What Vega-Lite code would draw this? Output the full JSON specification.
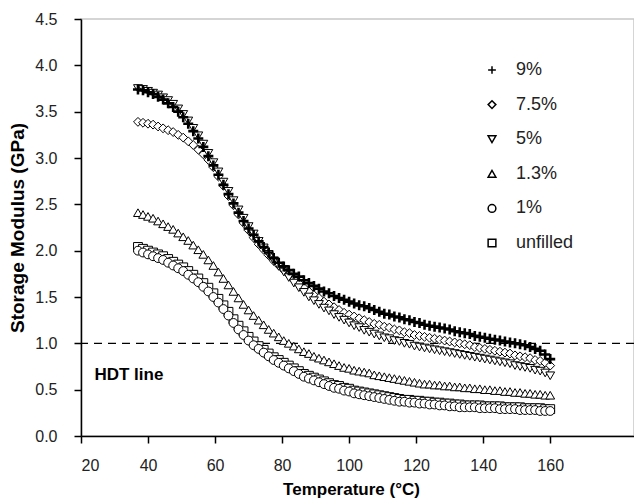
{
  "$schema": "https://vega.github.io/schema/vega-lite/v6.json",
  "width": 553,
  "height": 417,
  "autosize": {"type": "none"},
  "padding": {"left": 81, "top": 19, "right": 0, "bottom": 64},
  "background": "white",
  "config": {
    "view": {"stroke": "#c8c8c8", "strokeWidth": 1.5},
    "font": "Liberation Sans",
    "axis": {
      "grid": false,
      "domainColor": "black",
      "domainWidth": 1.5,
      "tickColor": "black",
      "tickWidth": 1.5,
      "labelFont": "Liberation Sans",
      "labelFontSize": 16,
      "labelColor": "#222222",
      "titleFont": "Liberation Sans",
      "titleFontWeight": "bold",
      "titleColor": "black"
    }
  },
  "datasets": {
    "curves": [
{"s":"unfilled","t":37,"v":2.04},{"s":"unfilled","t":38.5,"v":2.02},{"s":"unfilled","t":40,"v":2.00},{"s":"unfilled","t":41.5,"v":1.98},{"s":"unfilled","t":43,"v":1.96},{"s":"unfilled","t":44.5,"v":1.94},{"s":"unfilled","t":46,"v":1.91},{"s":"unfilled","t":47.5,"v":1.88},{"s":"unfilled","t":49,"v":1.85},{"s":"unfilled","t":50.5,"v":1.82},{"s":"unfilled","t":52,"v":1.78},{"s":"unfilled","t":53.5,"v":1.74},{"s":"unfilled","t":55,"v":1.70},{"s":"unfilled","t":56.5,"v":1.65},{"s":"unfilled","t":58,"v":1.60},{"s":"unfilled","t":59.5,"v":1.54},{"s":"unfilled","t":61,"v":1.48},{"s":"unfilled","t":62.5,"v":1.41},{"s":"unfilled","t":64,"v":1.34},{"s":"unfilled","t":65.5,"v":1.26},{"s":"unfilled","t":67,"v":1.19},{"s":"unfilled","t":68.5,"v":1.13},{"s":"unfilled","t":70,"v":1.07},{"s":"unfilled","t":71.5,"v":1.02},{"s":"unfilled","t":73,"v":0.97},{"s":"unfilled","t":74.5,"v":0.93},{"s":"unfilled","t":76,"v":0.89},{"s":"unfilled","t":77.5,"v":0.85},{"s":"unfilled","t":79,"v":0.82},{"s":"unfilled","t":80.5,"v":0.79},{"s":"unfilled","t":82,"v":0.76},{"s":"unfilled","t":83.5,"v":0.73},{"s":"unfilled","t":85,"v":0.70},{"s":"unfilled","t":86.5,"v":0.67},{"s":"unfilled","t":88,"v":0.65},{"s":"unfilled","t":89.5,"v":0.63},{"s":"unfilled","t":91,"v":0.61},{"s":"unfilled","t":92.5,"v":0.59},{"s":"unfilled","t":94,"v":0.57},{"s":"unfilled","t":95.5,"v":0.55},{"s":"unfilled","t":97,"v":0.54},{"s":"unfilled","t":98.5,"v":0.52},{"s":"unfilled","t":100,"v":0.51},{"s":"unfilled","t":101.5,"v":0.49},{"s":"unfilled","t":103,"v":0.48},{"s":"unfilled","t":104.5,"v":0.47},{"s":"unfilled","t":106,"v":0.46},{"s":"unfilled","t":107.5,"v":0.45},{"s":"unfilled","t":109,"v":0.44},{"s":"unfilled","t":110.5,"v":0.43},{"s":"unfilled","t":112,"v":0.42},{"s":"unfilled","t":113.5,"v":0.41},{"s":"unfilled","t":115,"v":0.40},{"s":"unfilled","t":116.5,"v":0.39},{"s":"unfilled","t":118,"v":0.39},{"s":"unfilled","t":119.5,"v":0.38},{"s":"unfilled","t":121,"v":0.38},{"s":"unfilled","t":122.5,"v":0.37},{"s":"unfilled","t":124,"v":0.37},{"s":"unfilled","t":125.5,"v":0.36},{"s":"unfilled","t":127,"v":0.36},{"s":"unfilled","t":128.5,"v":0.35},{"s":"unfilled","t":130,"v":0.35},{"s":"unfilled","t":131.5,"v":0.34},{"s":"unfilled","t":133,"v":0.34},{"s":"unfilled","t":134.5,"v":0.33},{"s":"unfilled","t":136,"v":0.33},{"s":"unfilled","t":137.5,"v":0.33},{"s":"unfilled","t":139,"v":0.33},{"s":"unfilled","t":140.5,"v":0.32},{"s":"unfilled","t":142,"v":0.32},{"s":"unfilled","t":143.5,"v":0.32},{"s":"unfilled","t":145,"v":0.32},{"s":"unfilled","t":146.5,"v":0.31},{"s":"unfilled","t":148,"v":0.31},{"s":"unfilled","t":149.5,"v":0.31},{"s":"unfilled","t":151,"v":0.31},{"s":"unfilled","t":152.5,"v":0.30},{"s":"unfilled","t":154,"v":0.30},{"s":"unfilled","t":155.5,"v":0.30},{"s":"unfilled","t":157,"v":0.30},{"s":"unfilled","t":158.5,"v":0.29},{"s":"unfilled","t":160,"v":0.29},
{"s":"1%","t":37,"v":2.00},{"s":"1%","t":38.5,"v":1.98},{"s":"1%","t":40,"v":1.96},{"s":"1%","t":41.5,"v":1.94},{"s":"1%","t":43,"v":1.92},{"s":"1%","t":44.5,"v":1.90},{"s":"1%","t":46,"v":1.87},{"s":"1%","t":47.5,"v":1.84},{"s":"1%","t":49,"v":1.81},{"s":"1%","t":50.5,"v":1.78},{"s":"1%","t":52,"v":1.74},{"s":"1%","t":53.5,"v":1.70},{"s":"1%","t":55,"v":1.66},{"s":"1%","t":56.5,"v":1.61},{"s":"1%","t":58,"v":1.56},{"s":"1%","t":59.5,"v":1.50},{"s":"1%","t":61,"v":1.44},{"s":"1%","t":62.5,"v":1.37},{"s":"1%","t":64,"v":1.30},{"s":"1%","t":65.5,"v":1.22},{"s":"1%","t":67,"v":1.15},{"s":"1%","t":68.5,"v":1.09},{"s":"1%","t":70,"v":1.03},{"s":"1%","t":71.5,"v":0.98},{"s":"1%","t":73,"v":0.94},{"s":"1%","t":74.5,"v":0.90},{"s":"1%","t":76,"v":0.86},{"s":"1%","t":77.5,"v":0.82},{"s":"1%","t":79,"v":0.79},{"s":"1%","t":80.5,"v":0.76},{"s":"1%","t":82,"v":0.73},{"s":"1%","t":83.5,"v":0.70},{"s":"1%","t":85,"v":0.67},{"s":"1%","t":86.5,"v":0.64},{"s":"1%","t":88,"v":0.62},{"s":"1%","t":89.5,"v":0.60},{"s":"1%","t":91,"v":0.58},{"s":"1%","t":92.5,"v":0.56},{"s":"1%","t":94,"v":0.54},{"s":"1%","t":95.5,"v":0.52},{"s":"1%","t":97,"v":0.51},{"s":"1%","t":98.5,"v":0.49},{"s":"1%","t":100,"v":0.48},{"s":"1%","t":101.5,"v":0.46},{"s":"1%","t":103,"v":0.45},{"s":"1%","t":104.5,"v":0.44},{"s":"1%","t":106,"v":0.43},{"s":"1%","t":107.5,"v":0.42},{"s":"1%","t":109,"v":0.41},{"s":"1%","t":110.5,"v":0.40},{"s":"1%","t":112,"v":0.39},{"s":"1%","t":113.5,"v":0.38},{"s":"1%","t":115,"v":0.37},{"s":"1%","t":116.5,"v":0.37},{"s":"1%","t":118,"v":0.36},{"s":"1%","t":119.5,"v":0.36},{"s":"1%","t":121,"v":0.35},{"s":"1%","t":122.5,"v":0.35},{"s":"1%","t":124,"v":0.34},{"s":"1%","t":125.5,"v":0.34},{"s":"1%","t":127,"v":0.33},{"s":"1%","t":128.5,"v":0.33},{"s":"1%","t":130,"v":0.32},{"s":"1%","t":131.5,"v":0.32},{"s":"1%","t":133,"v":0.31},{"s":"1%","t":134.5,"v":0.31},{"s":"1%","t":136,"v":0.31},{"s":"1%","t":137.5,"v":0.31},{"s":"1%","t":139,"v":0.30},{"s":"1%","t":140.5,"v":0.30},{"s":"1%","t":142,"v":0.30},{"s":"1%","t":143.5,"v":0.30},{"s":"1%","t":145,"v":0.29},{"s":"1%","t":146.5,"v":0.29},{"s":"1%","t":148,"v":0.29},{"s":"1%","t":149.5,"v":0.29},{"s":"1%","t":151,"v":0.28},{"s":"1%","t":152.5,"v":0.28},{"s":"1%","t":154,"v":0.28},{"s":"1%","t":155.5,"v":0.28},{"s":"1%","t":157,"v":0.27},{"s":"1%","t":158.5,"v":0.27},{"s":"1%","t":160,"v":0.27},
{"s":"1.3%","t":37,"v":2.41},{"s":"1.3%","t":38.5,"v":2.39},{"s":"1.3%","t":40,"v":2.37},{"s":"1.3%","t":41.5,"v":2.35},{"s":"1.3%","t":43,"v":2.32},{"s":"1.3%","t":44.5,"v":2.29},{"s":"1.3%","t":46,"v":2.26},{"s":"1.3%","t":47.5,"v":2.23},{"s":"1.3%","t":49,"v":2.19},{"s":"1.3%","t":50.5,"v":2.15},{"s":"1.3%","t":52,"v":2.11},{"s":"1.3%","t":53.5,"v":2.06},{"s":"1.3%","t":55,"v":2.01},{"s":"1.3%","t":56.5,"v":1.96},{"s":"1.3%","t":58,"v":1.90},{"s":"1.3%","t":59.5,"v":1.84},{"s":"1.3%","t":61,"v":1.77},{"s":"1.3%","t":62.5,"v":1.70},{"s":"1.3%","t":64,"v":1.63},{"s":"1.3%","t":65.5,"v":1.56},{"s":"1.3%","t":67,"v":1.49},{"s":"1.3%","t":68.5,"v":1.42},{"s":"1.3%","t":70,"v":1.36},{"s":"1.3%","t":71.5,"v":1.30},{"s":"1.3%","t":73,"v":1.25},{"s":"1.3%","t":74.5,"v":1.20},{"s":"1.3%","t":76,"v":1.15},{"s":"1.3%","t":77.5,"v":1.11},{"s":"1.3%","t":79,"v":1.07},{"s":"1.3%","t":80.5,"v":1.03},{"s":"1.3%","t":82,"v":1.00},{"s":"1.3%","t":83.5,"v":0.97},{"s":"1.3%","t":85,"v":0.94},{"s":"1.3%","t":86.5,"v":0.91},{"s":"1.3%","t":88,"v":0.89},{"s":"1.3%","t":89.5,"v":0.86},{"s":"1.3%","t":91,"v":0.84},{"s":"1.3%","t":92.5,"v":0.82},{"s":"1.3%","t":94,"v":0.80},{"s":"1.3%","t":95.5,"v":0.78},{"s":"1.3%","t":97,"v":0.76},{"s":"1.3%","t":98.5,"v":0.74},{"s":"1.3%","t":100,"v":0.73},{"s":"1.3%","t":101.5,"v":0.71},{"s":"1.3%","t":103,"v":0.70},{"s":"1.3%","t":104.5,"v":0.69},{"s":"1.3%","t":106,"v":0.68},{"s":"1.3%","t":107.5,"v":0.66},{"s":"1.3%","t":109,"v":0.65},{"s":"1.3%","t":110.5,"v":0.64},{"s":"1.3%","t":112,"v":0.63},{"s":"1.3%","t":113.5,"v":0.62},{"s":"1.3%","t":115,"v":0.61},{"s":"1.3%","t":116.5,"v":0.60},{"s":"1.3%","t":118,"v":0.59},{"s":"1.3%","t":119.5,"v":0.58},{"s":"1.3%","t":121,"v":0.57},{"s":"1.3%","t":122.5,"v":0.56},{"s":"1.3%","t":124,"v":0.56},{"s":"1.3%","t":125.5,"v":0.55},{"s":"1.3%","t":127,"v":0.55},{"s":"1.3%","t":128.5,"v":0.54},{"s":"1.3%","t":130,"v":0.54},{"s":"1.3%","t":131.5,"v":0.53},{"s":"1.3%","t":133,"v":0.53},{"s":"1.3%","t":134.5,"v":0.52},{"s":"1.3%","t":136,"v":0.52},{"s":"1.3%","t":137.5,"v":0.51},{"s":"1.3%","t":139,"v":0.51},{"s":"1.3%","t":140.5,"v":0.50},{"s":"1.3%","t":142,"v":0.50},{"s":"1.3%","t":143.5,"v":0.49},{"s":"1.3%","t":145,"v":0.49},{"s":"1.3%","t":146.5,"v":0.48},{"s":"1.3%","t":148,"v":0.48},{"s":"1.3%","t":149.5,"v":0.47},{"s":"1.3%","t":151,"v":0.47},{"s":"1.3%","t":152.5,"v":0.46},{"s":"1.3%","t":154,"v":0.46},{"s":"1.3%","t":155.5,"v":0.45},{"s":"1.3%","t":157,"v":0.45},{"s":"1.3%","t":158.5,"v":0.44},{"s":"1.3%","t":160,"v":0.44},
{"s":"7.5%","t":37,"v":3.39},{"s":"7.5%","t":38.5,"v":3.38},{"s":"7.5%","t":40,"v":3.37},{"s":"7.5%","t":41.5,"v":3.36},{"s":"7.5%","t":43,"v":3.34},{"s":"7.5%","t":44.5,"v":3.32},{"s":"7.5%","t":46,"v":3.30},{"s":"7.5%","t":47.5,"v":3.28},{"s":"7.5%","t":49,"v":3.25},{"s":"7.5%","t":50.5,"v":3.22},{"s":"7.5%","t":52,"v":3.18},{"s":"7.5%","t":53.5,"v":3.14},{"s":"7.5%","t":55,"v":3.09},{"s":"7.5%","t":56.5,"v":3.04},{"s":"7.5%","t":58,"v":2.98},{"s":"7.5%","t":59.5,"v":2.90},{"s":"7.5%","t":61,"v":2.80},{"s":"7.5%","t":62.5,"v":2.70},{"s":"7.5%","t":64,"v":2.59},{"s":"7.5%","t":65.5,"v":2.49},{"s":"7.5%","t":67,"v":2.39},{"s":"7.5%","t":68.5,"v":2.30},{"s":"7.5%","t":70,"v":2.22},{"s":"7.5%","t":71.5,"v":2.14},{"s":"7.5%","t":73,"v":2.07},{"s":"7.5%","t":74.5,"v":2.01},{"s":"7.5%","t":76,"v":1.95},{"s":"7.5%","t":77.5,"v":1.89},{"s":"7.5%","t":79,"v":1.84},{"s":"7.5%","t":80.5,"v":1.79},{"s":"7.5%","t":82,"v":1.74},{"s":"7.5%","t":83.5,"v":1.69},{"s":"7.5%","t":85,"v":1.65},{"s":"7.5%","t":86.5,"v":1.60},{"s":"7.5%","t":88,"v":1.56},{"s":"7.5%","t":89.5,"v":1.52},{"s":"7.5%","t":91,"v":1.49},{"s":"7.5%","t":92.5,"v":1.45},{"s":"7.5%","t":94,"v":1.42},{"s":"7.5%","t":95.5,"v":1.39},{"s":"7.5%","t":97,"v":1.36},{"s":"7.5%","t":98.5,"v":1.33},{"s":"7.5%","t":100,"v":1.31},{"s":"7.5%","t":101.5,"v":1.29},{"s":"7.5%","t":103,"v":1.27},{"s":"7.5%","t":104.5,"v":1.25},{"s":"7.5%","t":106,"v":1.23},{"s":"7.5%","t":107.5,"v":1.21},{"s":"7.5%","t":109,"v":1.20},{"s":"7.5%","t":110.5,"v":1.18},{"s":"7.5%","t":112,"v":1.17},{"s":"7.5%","t":113.5,"v":1.15},{"s":"7.5%","t":115,"v":1.14},{"s":"7.5%","t":116.5,"v":1.12},{"s":"7.5%","t":118,"v":1.11},{"s":"7.5%","t":119.5,"v":1.09},{"s":"7.5%","t":121,"v":1.08},{"s":"7.5%","t":122.5,"v":1.07},{"s":"7.5%","t":124,"v":1.06},{"s":"7.5%","t":125.5,"v":1.05},{"s":"7.5%","t":127,"v":1.04},{"s":"7.5%","t":128.5,"v":1.03},{"s":"7.5%","t":130,"v":1.02},{"s":"7.5%","t":131.5,"v":1.01},{"s":"7.5%","t":133,"v":1.00},{"s":"7.5%","t":134.5,"v":0.99},{"s":"7.5%","t":136,"v":0.98},{"s":"7.5%","t":137.5,"v":0.96},{"s":"7.5%","t":139,"v":0.95},{"s":"7.5%","t":140.5,"v":0.94},{"s":"7.5%","t":142,"v":0.93},{"s":"7.5%","t":143.5,"v":0.92},{"s":"7.5%","t":145,"v":0.91},{"s":"7.5%","t":146.5,"v":0.90},{"s":"7.5%","t":148,"v":0.89},{"s":"7.5%","t":149.5,"v":0.87},{"s":"7.5%","t":151,"v":0.86},{"s":"7.5%","t":152.5,"v":0.85},{"s":"7.5%","t":154,"v":0.84},{"s":"7.5%","t":155.5,"v":0.82},{"s":"7.5%","t":157,"v":0.81},{"s":"7.5%","t":158.5,"v":0.79},{"s":"7.5%","t":160,"v":0.76},
{"s":"5%","t":37,"v":3.75},{"s":"5%","t":38.5,"v":3.74},{"s":"5%","t":40,"v":3.72},{"s":"5%","t":41.5,"v":3.70},{"s":"5%","t":43,"v":3.68},{"s":"5%","t":44.5,"v":3.65},{"s":"5%","t":46,"v":3.62},{"s":"5%","t":47.5,"v":3.58},{"s":"5%","t":49,"v":3.53},{"s":"5%","t":50.5,"v":3.47},{"s":"5%","t":52,"v":3.40},{"s":"5%","t":53.5,"v":3.32},{"s":"5%","t":55,"v":3.24},{"s":"5%","t":56.5,"v":3.15},{"s":"5%","t":58,"v":3.05},{"s":"5%","t":59.5,"v":2.95},{"s":"5%","t":61,"v":2.85},{"s":"5%","t":62.5,"v":2.74},{"s":"5%","t":64,"v":2.64},{"s":"5%","t":65.5,"v":2.54},{"s":"5%","t":67,"v":2.44},{"s":"5%","t":68.5,"v":2.35},{"s":"5%","t":70,"v":2.26},{"s":"5%","t":71.5,"v":2.18},{"s":"5%","t":73,"v":2.10},{"s":"5%","t":74.5,"v":2.03},{"s":"5%","t":76,"v":1.96},{"s":"5%","t":77.5,"v":1.89},{"s":"5%","t":79,"v":1.83},{"s":"5%","t":80.5,"v":1.77},{"s":"5%","t":82,"v":1.71},{"s":"5%","t":83.5,"v":1.65},{"s":"5%","t":85,"v":1.60},{"s":"5%","t":86.5,"v":1.55},{"s":"5%","t":88,"v":1.50},{"s":"5%","t":89.5,"v":1.46},{"s":"5%","t":91,"v":1.42},{"s":"5%","t":92.5,"v":1.38},{"s":"5%","t":94,"v":1.35},{"s":"5%","t":95.5,"v":1.31},{"s":"5%","t":97,"v":1.28},{"s":"5%","t":98.5,"v":1.25},{"s":"5%","t":100,"v":1.22},{"s":"5%","t":101.5,"v":1.19},{"s":"5%","t":103,"v":1.17},{"s":"5%","t":104.5,"v":1.14},{"s":"5%","t":106,"v":1.12},{"s":"5%","t":107.5,"v":1.10},{"s":"5%","t":109,"v":1.08},{"s":"5%","t":110.5,"v":1.06},{"s":"5%","t":112,"v":1.05},{"s":"5%","t":113.5,"v":1.03},{"s":"5%","t":115,"v":1.02},{"s":"5%","t":116.5,"v":1.00},{"s":"5%","t":118,"v":0.99},{"s":"5%","t":119.5,"v":0.97},{"s":"5%","t":121,"v":0.96},{"s":"5%","t":122.5,"v":0.95},{"s":"5%","t":124,"v":0.94},{"s":"5%","t":125.5,"v":0.93},{"s":"5%","t":127,"v":0.92},{"s":"5%","t":128.5,"v":0.91},{"s":"5%","t":130,"v":0.90},{"s":"5%","t":131.5,"v":0.89},{"s":"5%","t":133,"v":0.88},{"s":"5%","t":134.5,"v":0.87},{"s":"5%","t":136,"v":0.86},{"s":"5%","t":137.5,"v":0.85},{"s":"5%","t":139,"v":0.84},{"s":"5%","t":140.5,"v":0.83},{"s":"5%","t":142,"v":0.82},{"s":"5%","t":143.5,"v":0.81},{"s":"5%","t":145,"v":0.80},{"s":"5%","t":146.5,"v":0.79},{"s":"5%","t":148,"v":0.78},{"s":"5%","t":149.5,"v":0.76},{"s":"5%","t":151,"v":0.75},{"s":"5%","t":152.5,"v":0.74},{"s":"5%","t":154,"v":0.73},{"s":"5%","t":155.5,"v":0.71},{"s":"5%","t":157,"v":0.70},{"s":"5%","t":158.5,"v":0.68},{"s":"5%","t":160,"v":0.65},
{"s":"9%","t":37,"v":3.74},{"s":"9%","t":38.5,"v":3.73},{"s":"9%","t":40,"v":3.71},{"s":"9%","t":41.5,"v":3.69},{"s":"9%","t":43,"v":3.66},{"s":"9%","t":44.5,"v":3.63},{"s":"9%","t":46,"v":3.59},{"s":"9%","t":47.5,"v":3.55},{"s":"9%","t":49,"v":3.50},{"s":"9%","t":50.5,"v":3.44},{"s":"9%","t":52,"v":3.37},{"s":"9%","t":53.5,"v":3.29},{"s":"9%","t":55,"v":3.21},{"s":"9%","t":56.5,"v":3.12},{"s":"9%","t":58,"v":3.02},{"s":"9%","t":59.5,"v":2.92},{"s":"9%","t":61,"v":2.82},{"s":"9%","t":62.5,"v":2.71},{"s":"9%","t":64,"v":2.61},{"s":"9%","t":65.5,"v":2.51},{"s":"9%","t":67,"v":2.41},{"s":"9%","t":68.5,"v":2.32},{"s":"9%","t":70,"v":2.24},{"s":"9%","t":71.5,"v":2.17},{"s":"9%","t":73,"v":2.10},{"s":"9%","t":74.5,"v":2.04},{"s":"9%","t":76,"v":1.98},{"s":"9%","t":77.5,"v":1.92},{"s":"9%","t":79,"v":1.87},{"s":"9%","t":80.5,"v":1.83},{"s":"9%","t":82,"v":1.79},{"s":"9%","t":83.5,"v":1.75},{"s":"9%","t":85,"v":1.72},{"s":"9%","t":86.5,"v":1.68},{"s":"9%","t":88,"v":1.65},{"s":"9%","t":89.5,"v":1.62},{"s":"9%","t":91,"v":1.59},{"s":"9%","t":92.5,"v":1.56},{"s":"9%","t":94,"v":1.54},{"s":"9%","t":95.5,"v":1.51},{"s":"9%","t":97,"v":1.49},{"s":"9%","t":98.5,"v":1.47},{"s":"9%","t":100,"v":1.45},{"s":"9%","t":101.5,"v":1.43},{"s":"9%","t":103,"v":1.41},{"s":"9%","t":104.5,"v":1.40},{"s":"9%","t":106,"v":1.38},{"s":"9%","t":107.5,"v":1.36},{"s":"9%","t":109,"v":1.34},{"s":"9%","t":110.5,"v":1.32},{"s":"9%","t":112,"v":1.31},{"s":"9%","t":113.5,"v":1.29},{"s":"9%","t":115,"v":1.28},{"s":"9%","t":116.5,"v":1.26},{"s":"9%","t":118,"v":1.25},{"s":"9%","t":119.5,"v":1.23},{"s":"9%","t":121,"v":1.22},{"s":"9%","t":122.5,"v":1.20},{"s":"9%","t":124,"v":1.19},{"s":"9%","t":125.5,"v":1.18},{"s":"9%","t":127,"v":1.17},{"s":"9%","t":128.5,"v":1.16},{"s":"9%","t":130,"v":1.15},{"s":"9%","t":131.5,"v":1.13},{"s":"9%","t":133,"v":1.12},{"s":"9%","t":134.5,"v":1.11},{"s":"9%","t":136,"v":1.10},{"s":"9%","t":137.5,"v":1.08},{"s":"9%","t":139,"v":1.07},{"s":"9%","t":140.5,"v":1.06},{"s":"9%","t":142,"v":1.05},{"s":"9%","t":143.5,"v":1.04},{"s":"9%","t":145,"v":1.03},{"s":"9%","t":146.5,"v":1.02},{"s":"9%","t":148,"v":1.01},{"s":"9%","t":149.5,"v":1.00},{"s":"9%","t":151,"v":0.99},{"s":"9%","t":152.5,"v":0.98},{"s":"9%","t":154,"v":0.96},{"s":"9%","t":155.5,"v":0.94},{"s":"9%","t":157,"v":0.92},{"s":"9%","t":158.5,"v":0.88},{"s":"9%","t":160,"v":0.83}
    ]
  },
  "layer": [
    {
      "data": {"values": [{"hdt": 1.0}]},
      "mark": {"type": "rule", "color": "black", "strokeWidth": 1.3, "strokeDash": [8, 6]},
      "encoding": {"y": {"field": "hdt", "type": "quantitative"}}
    },
    {
      "data": {"values": [{"label": "HDT line", "t": 24, "v": 0.66}]},
      "mark": {"type": "text", "align": "left", "baseline": "middle", "font": "Liberation Sans", "fontSize": 17, "fontWeight": "bold", "color": "black"},
      "encoding": {
        "x": {"field": "t", "type": "quantitative"},
        "y": {"field": "v", "type": "quantitative"},
        "text": {"field": "label"}
      }
    },
    {
      "data": {"name": "curves"},
      "mark": {"type": "point", "filled": true, "fill": "white", "stroke": "black", "opacity": 1},
      "encoding": {
        "x": {
          "field": "t", "type": "quantitative",
          "scale": {"domain": [20, 185], "nice": false, "zero": false},
          "axis": {
            "title": "Temperature (°C)",
            "titleFontSize": 17,
            "titleX": 270,
            "values": [20,30,40,50,60,70,80,90,100,110,120,130,140,150,160,170],
            "labelExpr": "datum.value % 20 === 0 ? datum.label : ''",
            "tickSize": {"condition": {"test": "datum.value % 20 === 0", "value": 7}, "value": 4},
            "labelPadding": 14,
            "titlePadding": 8
          }
        },
        "y": {
          "field": "v", "type": "quantitative",
          "scale": {"domain": [0, 4.5], "nice": false},
          "axis": {
            "title": "Storage Modulus (GPa)",
            "titleFontSize": 19,
            "values": [0,0.25,0.5,0.75,1,1.25,1.5,1.75,2,2.25,2.5,2.75,3,3.25,3.5,3.75,4,4.25,4.5],
            "labelExpr": "datum.value % 0.5 === 0 ? format(datum.value, '.1f') : ''",
            "tickSize": {"condition": {"test": "datum.value % 0.5 === 0", "value": 7}, "value": 4},
            "labelPadding": 17,
            "titlePadding": 7
          }
        },
        "strokeWidth": {"condition": {"test": "datum.s === '9%'", "value": 2.6}, "value": 1},
        "size": {"condition": {"test": "datum.s === '9%'", "value": 100}, "value": 78},
        "shape": {
          "field": "s", "type": "nominal",
          "scale": {
            "domain": ["9%", "7.5%", "5%", "1.3%", "1%", "unfilled"],
            "range": ["M-1,0H1M0,-1V1", "diamond", "triangle-down", "triangle-up", "circle", "square"]
          },
          "legend": {
            "orient": "none",
            "legendX": 402,
            "legendY": 42,
            "title": null,
            "labelFont": "Liberation Sans",
            "labelFontSize": 18,
            "labelColor": "#222222",
            "labelOffset": 15,
            "symbolSize": 60,
            "rowPadding": 16.6,
            "encode": {
              "symbols": {
                "update": {
                  "fill": {"value": "white"},
                  "stroke": {"value": "black"},
                  "strokeWidth": {"value": 1},
                  "size": {"value": 60},
                  "opacity": {"value": 1}
                }
              }
            }
          }
        }
      }
    }
  ]
}
